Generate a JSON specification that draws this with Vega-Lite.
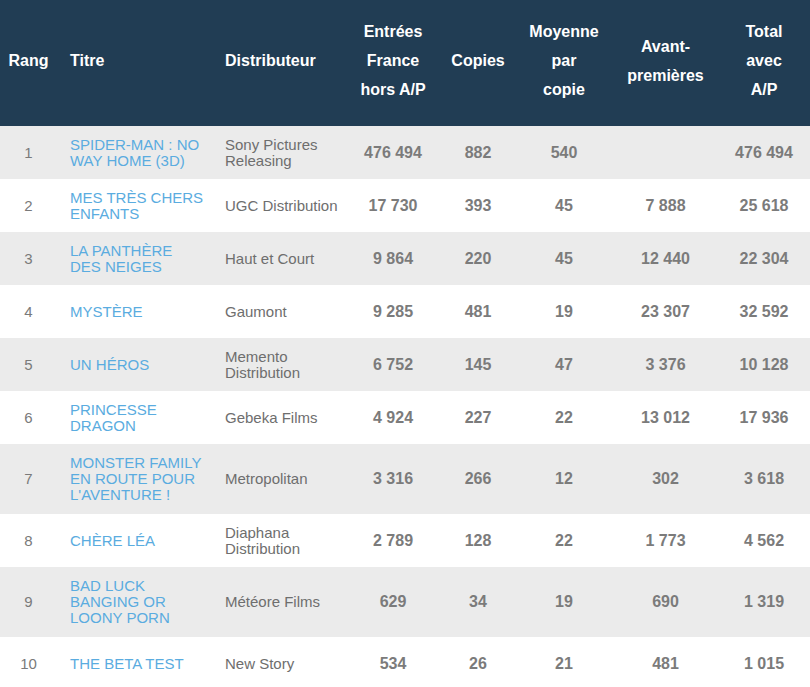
{
  "$schema": "https://vega.github.io/schema/vega-lite/v6.json",
  "padding": 0,
  "spacing": 0,
  "background": "#ffffff",
  "config": {
    "view": {"stroke": null},
    "concat": {"spacing": 0},
    "text": {"font": "Liberation Sans"},
    "locale": {"number": {"decimal": ",", "thousands": " ", "grouping": [3], "currency": ["", " €"]}}
  },
  "data": {"values": [
    {"rang": 1, "titre": ["SPIDER-MAN : NO", "WAY HOME (3D)"], "distributeur": ["Sony Pictures", "Releasing"], "entrees": 476494, "copies": 882, "moyenne": 540, "avant": null, "total": 476494},
    {"rang": 2, "titre": ["MES TRÈS CHERS", "ENFANTS"], "distributeur": ["UGC Distribution"], "entrees": 17730, "copies": 393, "moyenne": 45, "avant": 7888, "total": 25618},
    {"rang": 3, "titre": ["LA PANTHÈRE", "DES NEIGES"], "distributeur": ["Haut et Court"], "entrees": 9864, "copies": 220, "moyenne": 45, "avant": 12440, "total": 22304},
    {"rang": 4, "titre": ["MYSTÈRE"], "distributeur": ["Gaumont"], "entrees": 9285, "copies": 481, "moyenne": 19, "avant": 23307, "total": 32592},
    {"rang": 5, "titre": ["UN HÉROS"], "distributeur": ["Memento", "Distribution"], "entrees": 6752, "copies": 145, "moyenne": 47, "avant": 3376, "total": 10128},
    {"rang": 6, "titre": ["PRINCESSE", "DRAGON"], "distributeur": ["Gebeka Films"], "entrees": 4924, "copies": 227, "moyenne": 22, "avant": 13012, "total": 17936},
    {"rang": 7, "titre": ["MONSTER FAMILY", "EN ROUTE POUR", "L'AVENTURE !"], "distributeur": ["Metropolitan"], "entrees": 3316, "copies": 266, "moyenne": 12, "avant": 302, "total": 3618},
    {"rang": 8, "titre": ["CHÈRE LÉA"], "distributeur": ["Diaphana", "Distribution"], "entrees": 2789, "copies": 128, "moyenne": 22, "avant": 1773, "total": 4562},
    {"rang": 9, "titre": ["BAD LUCK", "BANGING OR", "LOONY PORN"], "distributeur": ["Météore Films"], "entrees": 629, "copies": 34, "moyenne": 19, "avant": 690, "total": 1319},
    {"rang": 10, "titre": ["THE BETA TEST"], "distributeur": ["New Story"], "entrees": 534, "copies": 26, "moyenne": 21, "avant": 481, "total": 1015}
  ]},
  "transform": [
    {"calculate": "max(2, length(datum.titre))", "as": "nl"},
    {"calculate": "19 + 17 * datum.nl", "as": "h"},
    {"window": [{"op": "sum", "field": "h", "as": "cum"}], "sort": [{"field": "rang"}], "frame": [null, 0]},
    {"calculate": "126 + datum.cum - datum.h", "as": "top"},
    {"calculate": "126 + datum.cum", "as": "bottom"},
    {"calculate": "(datum.top + datum.bottom) / 2", "as": "mid"},
    {"calculate": "datum.mid - (length(datum.titre) - 1) * 8", "as": "ytitre"},
    {"calculate": "datum.mid - (length(datum.distributeur) - 1) * 8", "as": "ydistrib"},
    {"calculate": "datum.rang % 2 ? 'impair' : 'pair'", "as": "fond"}
  ],
  "hconcat": [
    {
      "width": 57, "height": 687,
      "layer": [
        {"mark": {"type": "rect", "clip": true}, "encoding": {"y": {"field": "top", "type": "quantitative", "scale": {"domain": [0, 687], "reverse": true, "nice": false, "zero": false}, "axis": null}, "y2": {"field": "bottom"}, "color": {"field": "fond", "type": "nominal", "scale": {"domain": ["impair", "pair"], "range": ["#ebebeb", "#ffffff"]}, "legend": null}}},
        {"data": {"values": [{}]}, "mark": {"type": "rect", "color": "#213d54"}, "encoding": {"y": {"datum": 0, "type": "quantitative"}, "y2": {"datum": 126}}},
        {"data": {"values": [{}]}, "mark": {"type": "text", "text": "Rang", "color": "#ffffff", "fontWeight": "bold", "fontSize": 16, "baseline": "middle"}, "encoding": {"y": {"datum": 61, "type": "quantitative"}}},
        {"mark": {"type": "text", "color": "#7a7a7a", "fontSize": 15, "baseline": "middle"}, "encoding": {"y": {"field": "mid", "type": "quantitative"}, "text": {"field": "rang", "type": "nominal"}}}
      ]
    },
    {
      "width": 155, "height": 687,
      "layer": [
        {"mark": {"type": "rect", "clip": true}, "encoding": {"y": {"field": "top", "type": "quantitative", "scale": {"domain": [0, 687], "reverse": true, "nice": false, "zero": false}, "axis": null}, "y2": {"field": "bottom"}, "color": {"field": "fond", "type": "nominal", "scale": {"domain": ["impair", "pair"], "range": ["#ebebeb", "#ffffff"]}, "legend": null}}},
        {"data": {"values": [{}]}, "mark": {"type": "rect", "color": "#213d54"}, "encoding": {"y": {"datum": 0, "type": "quantitative"}, "y2": {"datum": 126}}},
        {"data": {"values": [{}]}, "mark": {"type": "text", "text": "Titre", "color": "#ffffff", "fontWeight": "bold", "fontSize": 16, "align": "left", "dx": -64.5, "baseline": "middle"}, "encoding": {"y": {"datum": 61, "type": "quantitative"}}},
        {"mark": {"type": "text", "color": "#5aace0", "fontSize": 15, "lineHeight": 16, "align": "left", "dx": -64.5, "baseline": "middle"}, "encoding": {"y": {"field": "ytitre", "type": "quantitative"}, "text": {"field": "titre"}}}
      ]
    },
    {
      "width": 133, "height": 687,
      "layer": [
        {"mark": {"type": "rect", "clip": true}, "encoding": {"y": {"field": "top", "type": "quantitative", "scale": {"domain": [0, 687], "reverse": true, "nice": false, "zero": false}, "axis": null}, "y2": {"field": "bottom"}, "color": {"field": "fond", "type": "nominal", "scale": {"domain": ["impair", "pair"], "range": ["#ebebeb", "#ffffff"]}, "legend": null}}},
        {"data": {"values": [{}]}, "mark": {"type": "rect", "color": "#213d54"}, "encoding": {"y": {"datum": 0, "type": "quantitative"}, "y2": {"datum": 126}}},
        {"data": {"values": [{}]}, "mark": {"type": "text", "text": "Distributeur", "color": "#ffffff", "fontWeight": "bold", "fontSize": 16, "align": "left", "dx": -53.5, "baseline": "middle"}, "encoding": {"y": {"datum": 61, "type": "quantitative"}}},
        {"mark": {"type": "text", "color": "#6e6e6e", "fontSize": 15, "lineHeight": 16, "align": "left", "dx": -53.5, "baseline": "middle"}, "encoding": {"y": {"field": "ydistrib", "type": "quantitative"}, "text": {"field": "distributeur"}}}
      ]
    },
    {
      "width": 96, "height": 687,
      "layer": [
        {"mark": {"type": "rect", "clip": true}, "encoding": {"y": {"field": "top", "type": "quantitative", "scale": {"domain": [0, 687], "reverse": true, "nice": false, "zero": false}, "axis": null}, "y2": {"field": "bottom"}, "color": {"field": "fond", "type": "nominal", "scale": {"domain": ["impair", "pair"], "range": ["#ebebeb", "#ffffff"]}, "legend": null}}},
        {"data": {"values": [{}]}, "mark": {"type": "rect", "color": "#213d54"}, "encoding": {"y": {"datum": 0, "type": "quantitative"}, "y2": {"datum": 126}}},
        {"data": {"values": [{}]}, "mark": {"type": "text", "text": ["Entrées", "France", "hors A/P"], "color": "#ffffff", "fontWeight": "bold", "fontSize": 16, "lineHeight": 29, "baseline": "middle"}, "encoding": {"y": {"datum": 32, "type": "quantitative"}}},
        {"mark": {"type": "text", "color": "#7b7b7b", "fontSize": 16, "fontWeight": "bold", "baseline": "middle"}, "encoding": {"y": {"field": "mid", "type": "quantitative"}, "text": {"field": "entrees", "type": "quantitative", "format": ","}}}
      ]
    },
    {
      "width": 74, "height": 687,
      "layer": [
        {"mark": {"type": "rect", "clip": true}, "encoding": {"y": {"field": "top", "type": "quantitative", "scale": {"domain": [0, 687], "reverse": true, "nice": false, "zero": false}, "axis": null}, "y2": {"field": "bottom"}, "color": {"field": "fond", "type": "nominal", "scale": {"domain": ["impair", "pair"], "range": ["#ebebeb", "#ffffff"]}, "legend": null}}},
        {"data": {"values": [{}]}, "mark": {"type": "rect", "color": "#213d54"}, "encoding": {"y": {"datum": 0, "type": "quantitative"}, "y2": {"datum": 126}}},
        {"data": {"values": [{}]}, "mark": {"type": "text", "text": "Copies", "color": "#ffffff", "fontWeight": "bold", "fontSize": 16, "baseline": "middle"}, "encoding": {"y": {"datum": 61, "type": "quantitative"}}},
        {"mark": {"type": "text", "color": "#7b7b7b", "fontSize": 16, "fontWeight": "bold", "baseline": "middle"}, "encoding": {"y": {"field": "mid", "type": "quantitative"}, "text": {"field": "copies", "type": "quantitative", "format": ","}}}
      ]
    },
    {
      "width": 98, "height": 687,
      "layer": [
        {"mark": {"type": "rect", "clip": true}, "encoding": {"y": {"field": "top", "type": "quantitative", "scale": {"domain": [0, 687], "reverse": true, "nice": false, "zero": false}, "axis": null}, "y2": {"field": "bottom"}, "color": {"field": "fond", "type": "nominal", "scale": {"domain": ["impair", "pair"], "range": ["#ebebeb", "#ffffff"]}, "legend": null}}},
        {"data": {"values": [{}]}, "mark": {"type": "rect", "color": "#213d54"}, "encoding": {"y": {"datum": 0, "type": "quantitative"}, "y2": {"datum": 126}}},
        {"data": {"values": [{}]}, "mark": {"type": "text", "text": ["Moyenne", "par", "copie"], "color": "#ffffff", "fontWeight": "bold", "fontSize": 16, "lineHeight": 29, "baseline": "middle"}, "encoding": {"y": {"datum": 32, "type": "quantitative"}}},
        {"mark": {"type": "text", "color": "#7b7b7b", "fontSize": 16, "fontWeight": "bold", "baseline": "middle"}, "encoding": {"y": {"field": "mid", "type": "quantitative"}, "text": {"field": "moyenne", "type": "quantitative", "format": ","}}}
      ]
    },
    {
      "width": 105, "height": 687,
      "layer": [
        {"mark": {"type": "rect", "clip": true}, "encoding": {"y": {"field": "top", "type": "quantitative", "scale": {"domain": [0, 687], "reverse": true, "nice": false, "zero": false}, "axis": null}, "y2": {"field": "bottom"}, "color": {"field": "fond", "type": "nominal", "scale": {"domain": ["impair", "pair"], "range": ["#ebebeb", "#ffffff"]}, "legend": null}}},
        {"data": {"values": [{}]}, "mark": {"type": "rect", "color": "#213d54"}, "encoding": {"y": {"datum": 0, "type": "quantitative"}, "y2": {"datum": 126}}},
        {"data": {"values": [{}]}, "mark": {"type": "text", "text": ["Avant-", "premières"], "color": "#ffffff", "fontWeight": "bold", "fontSize": 16, "lineHeight": 29, "baseline": "middle"}, "encoding": {"y": {"datum": 46.5, "type": "quantitative"}}},
        {"transform": [{"filter": "isValid(datum.avant)"}], "mark": {"type": "text", "color": "#7b7b7b", "fontSize": 16, "fontWeight": "bold", "baseline": "middle"}, "encoding": {"y": {"field": "mid", "type": "quantitative"}, "text": {"field": "avant", "type": "quantitative", "format": ","}}}
      ]
    },
    {
      "width": 92, "height": 687,
      "layer": [
        {"mark": {"type": "rect", "clip": true}, "encoding": {"y": {"field": "top", "type": "quantitative", "scale": {"domain": [0, 687], "reverse": true, "nice": false, "zero": false}, "axis": null}, "y2": {"field": "bottom"}, "color": {"field": "fond", "type": "nominal", "scale": {"domain": ["impair", "pair"], "range": ["#ebebeb", "#ffffff"]}, "legend": null}}},
        {"data": {"values": [{}]}, "mark": {"type": "rect", "color": "#213d54"}, "encoding": {"y": {"datum": 0, "type": "quantitative"}, "y2": {"datum": 126}}},
        {"data": {"values": [{}]}, "mark": {"type": "text", "text": ["Total", "avec", "A/P"], "color": "#ffffff", "fontWeight": "bold", "fontSize": 16, "lineHeight": 29, "baseline": "middle"}, "encoding": {"y": {"datum": 32, "type": "quantitative"}}},
        {"mark": {"type": "text", "color": "#7b7b7b", "fontSize": 16, "fontWeight": "bold", "baseline": "middle"}, "encoding": {"y": {"field": "mid", "type": "quantitative"}, "text": {"field": "total", "type": "quantitative", "format": ","}}}
      ]
    }
  ]
}
